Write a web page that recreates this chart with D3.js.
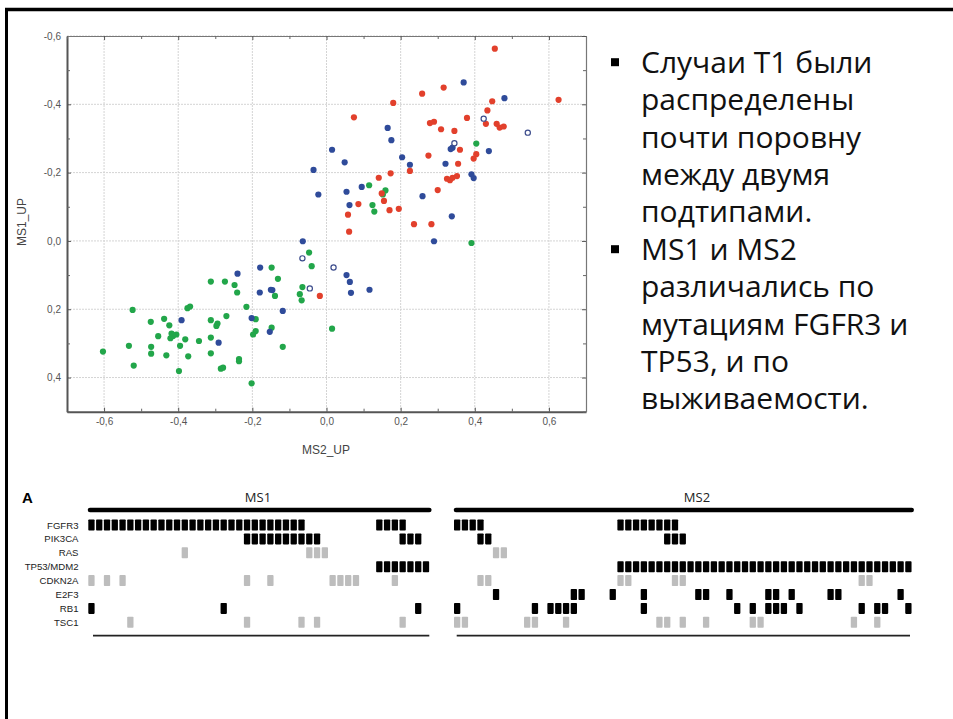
<!DOCTYPE html>
<html>
<head>
<meta charset="utf-8">
<script src="https://cdn.jsdelivr.net/npm/d3@7/dist/d3.min.js"></script>
<style>
  html, body { margin: 0; padding: 0; background: #fff; }
  svg { display: block; }
</style>
</head>
<body>
<div id="chart"></div>
<script>
// Scatter of MS2_UP vs MS1_UP scores + mutation matrix of MS1 / MS2 samples.

// --- scatter data: [MS2_UP, MS1_UP] ---
const redPoints = [
  [0.454, -0.563], [0.316, -0.449], [0.258, -0.431], [0.180, -0.404], [0.447, -0.409],
  [0.626, -0.413], [0.434, -0.382], [0.430, -0.343], [0.459, -0.343], [0.467, -0.332],
  [0.478, -0.335], [0.074, -0.362], [0.279, -0.345], [0.290, -0.349], [0.309, -0.327],
  [0.345, -0.322], [0.379, -0.360], [0.360, -0.267], [0.404, -0.254], [0.397, -0.241],
  [0.275, -0.250], [0.225, -0.205], [0.355, -0.226], [0.173, -0.198], [0.141, -0.185],
  [0.325, -0.182], [0.333, -0.178], [0.340, -0.185], [0.352, -0.190], [0.149, -0.139],
  [0.300, -0.149], [0.155, -0.117], [0.086, -0.108], [0.170, -0.090], [0.195, -0.094],
  [0.058, -0.077], [0.061, -0.027], [0.236, -0.049], [0.283, -0.049], [-0.018, 0.161]
];
const bluePoints = [
  [0.370, -0.464], [0.480, -0.418], [0.165, -0.331], [0.175, -0.295], [0.015, -0.267],
  [0.335, -0.269], [0.340, -0.273], [0.438, -0.263], [0.049, -0.230], [0.204, -0.245],
  [0.225, -0.223], [0.321, -0.226], [-0.035, -0.208], [0.391, -0.195], [0.397, -0.184],
  [-0.022, -0.136], [0.054, -0.144], [0.095, -0.158], [0.062, -0.105], [0.259, -0.131],
  [0.338, -0.072], [0.290, 0.001], [-0.064, 0.001], [-0.179, 0.078], [-0.240, 0.096],
  [-0.180, 0.151], [-0.150, 0.143], [-0.146, 0.144], [-0.202, 0.226], [-0.118, 0.205],
  [-0.391, 0.232], [-0.153, 0.266], [-0.291, 0.298], [0.054, 0.100], [0.063, 0.120],
  [0.066, 0.152], [0.116, 0.143]
];
const openPoints = [
  [0.424, -0.358], [0.543, -0.317], [0.345, -0.286], [-0.065, 0.051], [-0.045, 0.139],
  [0.019, 0.078]
];
const greenPoints = [
  [0.404, -0.285], [0.115, -0.163], [0.159, -0.148], [0.152, -0.136], [0.124, -0.105],
  [0.129, -0.086], [0.391, 0.006], [-0.047, 0.034], [-0.040, 0.074], [-0.148, 0.078],
  [-0.131, 0.111], [-0.312, 0.119], [-0.274, 0.119], [-0.248, 0.129], [-0.241, 0.151],
  [-0.139, 0.161], [-0.065, 0.135], [-0.072, 0.156], [-0.067, 0.174], [-0.216, 0.193],
  [-0.191, 0.229], [-0.523, 0.202], [-0.375, 0.197], [-0.368, 0.192], [-0.270, 0.220],
  [-0.438, 0.228], [-0.474, 0.237], [-0.424, 0.247], [-0.312, 0.232], [-0.297, 0.249],
  [-0.294, 0.242], [-0.191, 0.264], [-0.198, 0.274], [-0.148, 0.254], [-0.418, 0.271],
  [-0.405, 0.274], [-0.414, 0.278], [-0.421, 0.285], [-0.454, 0.279], [-0.381, 0.288],
  [-0.344, 0.293], [-0.312, 0.283], [-0.395, 0.307], [-0.533, 0.307], [-0.473, 0.310],
  [-0.473, 0.330], [-0.118, 0.310], [-0.603, 0.324], [-0.432, 0.335], [-0.373, 0.338],
  [-0.312, 0.329], [-0.236, 0.346], [-0.236, 0.352], [-0.520, 0.365], [-0.285, 0.374],
  [-0.279, 0.371], [-0.398, 0.381], [-0.202, 0.417], [0.015, 0.257]
];

const xTicks = [-0.6, -0.4, -0.2, 0.0, 0.2, 0.4, 0.6];
const yTicks = [-0.6, -0.4, -0.2, 0.0, 0.2, 0.4];
const xMinor = [-0.7, -0.5, -0.3, -0.1, 0.1, 0.3, 0.5, 0.7];
const yMinor = [-0.5, -0.3, -0.1, 0.1, 0.3, 0.5];

// --- bullet text ---
const bullets = [
  ['Случаи Т1 были', 'распределены', 'почти поровну', 'между двумя', 'подтипами.'],
  ['MS1 и MS2', 'различались по', 'мутациям FGFR3 и', 'TP53, и по', 'выживаемости.']
];

// --- mutation matrix: runs of sample columns [from, to] ---
const genes = ['FGFR3', 'PIK3CA', 'RAS', 'TP53/MDM2', 'CDKN2A', 'E2F3', 'RB1', 'TSC1'];
const greyGenes = ['RAS', 'CDKN2A', 'TSC1'];
const ms1Count = 44;
const ms2Count = 59;
const ms1Runs = {
  'FGFR3': [[0, 27], [37, 40]],
  'PIK3CA': [[20, 29], [40, 42]],
  'RAS': [[12, 12], [28, 30]],
  'TP53/MDM2': [[37, 43]],
  'CDKN2A': [[0, 0], [2, 2], [4, 4], [20, 20], [23, 23], [31, 34], [39, 39]],
  'E2F3': [],
  'RB1': [[0, 0], [17, 17], [42, 42]],
  'TSC1': [[5, 5], [20, 20], [27, 27], [29, 29], [40, 40]]
};
const ms2Runs = {
  'FGFR3': [[0, 3], [21, 28]],
  'PIK3CA': [[3, 4], [27, 29]],
  'RAS': [[5, 6]],
  'TP53/MDM2': [[21, 58]],
  'CDKN2A': [[3, 4], [21, 22], [28, 29], [52, 53]],
  'E2F3': [[5, 5], [15, 16], [20, 20], [24, 24], [31, 32], [35, 35], [40, 41], [43, 43], [48, 49], [57, 57]],
  'RB1': [[0, 0], [10, 10], [12, 15], [24, 24], [36, 36], [38, 38], [40, 42], [44, 44], [52, 52], [54, 55], [58, 58]],
  'TSC1': [[0, 1], [9, 10], [14, 14], [26, 27], [29, 29], [32, 32], [38, 39], [51, 51], [54, 54]]
};

(function() {
  'use strict';

  const W = 953, H = 719;
  const svg = d3.select('#chart').append('svg')
    .attr('width', W).attr('height', H)
    .attr('viewBox', [0, 0, W, H]);

  // frame: top and left rules only
  svg.append('line').attr('x1', 5).attr('x2', W).attr('y1', 9.5).attr('y2', 9.5)
    .attr('stroke', '#000').attr('stroke-width', 3.5);
  svg.append('line').attr('x1', 6.5).attr('x2', 6.5).attr('y1', 8).attr('y2', H)
    .attr('stroke', '#000').attr('stroke-width', 3);

  drawScatter();
  drawBullets();
  drawMatrix();

  function fmt(v) {
    return d3.format('.1f')(v).replace('.', ',').replace('−', '-');
  }

  function drawScatter() {
    const x = d3.scaleLinear().domain([-0.7, 0.7]).range([67, 586]);
    const y = d3.scaleLinear().domain([-0.6, 0.5]).range([36, 411.7]);
    const g = svg.append('g');

    // grid
    g.append('g').selectAll('line').data(xTicks).join('line')
      .attr('x1', d => x(d)).attr('x2', d => x(d))
      .attr('y1', y.range()[0]).attr('y2', y.range()[1])
      .attr('stroke', '#d4d4d4').attr('stroke-dasharray', '2,1');
    g.append('g').selectAll('line').data(yTicks).join('line')
      .attr('y1', d => y(d)).attr('y2', d => y(d))
      .attr('x1', x.range()[0]).attr('x2', x.range()[1])
      .attr('stroke', '#d4d4d4').attr('stroke-dasharray', '2,1');

    // axes (ticks point inward)
    const axes = [
      { ax: d3.axisBottom(x), t: `translate(0,${y.range()[1]})`, major: xTicks, minor: xMinor, label: true },
      { ax: d3.axisLeft(y), t: `translate(${x.range()[0]},0)`, major: yTicks, minor: yMinor, label: true },
      { ax: d3.axisTop(x), t: `translate(0,${y.range()[0]})`, major: xTicks, minor: xMinor, label: false },
      { ax: d3.axisRight(y), t: `translate(${x.range()[1]},0)`, major: yTicks, minor: yMinor, label: false }
    ];
    axes.forEach(a => {
      const ag = g.append('g').attr('transform', a.t)
        .call(a.ax.tickValues(a.major).tickSizeInner(-4).tickSizeOuter(0).tickPadding(6)
          .tickFormat(a.label ? fmt : ''));
      ag.select('.domain').attr('stroke', a.label ? '#555' : '#777')
        .attr('stroke-width', a.label ? 2 : 1.2);
      ag.selectAll('.tick line').attr('stroke', '#555');
      ag.selectAll('.tick text')
        .attr('fill', '#555').style('font-family', 'Liberation Sans, Arial, sans-serif')
        .style('font-size', '10px');
      const mg = g.append('g').attr('transform', a.t)
        .call(a.ax.tickValues(a.minor).tickSizeInner(-3).tickFormat(''));
      mg.select('.domain').remove();
      mg.selectAll('.tick line').attr('stroke', '#666');
    });

    g.append('text').attr('x', 326).attr('y', 454).attr('text-anchor', 'middle')
      .style('font-family', 'Liberation Sans, Arial, sans-serif').style('font-size', '12px')
      .attr('fill', '#444').text('MS2_UP');
    g.append('text').attr('transform', 'translate(26,222) rotate(-90)').attr('text-anchor', 'middle')
      .style('font-family', 'Liberation Sans, Arial, sans-serif').style('font-size', '12px')
      .attr('fill', '#444').text('MS1_UP');

    const series = [
      { data: greenPoints, fill: '#22a64a', stroke: 'none' },
      { data: bluePoints, fill: '#2f4b9a', stroke: 'none' },
      { data: redPoints, fill: '#e2402c', stroke: 'none' },
      { data: openPoints, fill: '#fff', stroke: '#3c4c8c' }
    ];
    series.forEach(s => {
      g.append('g').selectAll('circle').data(s.data).join('circle')
        .attr('cx', d => x(d[0])).attr('cy', d => y(d[1]))
        .attr('r', s.stroke === 'none' ? 3.1 : 2.6)
        .attr('fill', s.fill)
        .attr('stroke', s.stroke).attr('stroke-width', 1.2);
    });
  }

  function drawBullets() {
    const g = svg.append('g')
      .style('font-family', 'Open Sans, sans-serif').style('font-size', '30px').attr('fill', '#111');
    const lineH = 37.4;
    let line = 0;
    bullets.forEach(b => {
      const base = 72.7 + line * lineH;
      g.append('rect').attr('x', 611).attr('y', base - 14.5).attr('width', 8).attr('height', 8)
        .attr('fill', '#000');
      b.forEach(t => {
        g.append('text').attr('x', 641).attr('y', 72.7 + line * lineH).text(t);
        line++;
      });
    });
  }

  function drawMatrix() {
    const g = svg.append('g');
    const rowY = d3.scalePoint().domain(genes).range([525, 622.3]);
    const pitch = 7.78, cellW = 6.3, cellH = 11;
    const groups = [
      { name: 'MS1', runs: ms1Runs, n: ms1Count, x0: 88.3, bar: [90, 429.3], base: [93, 429.3], lx: 258 },
      { name: 'MS2', runs: ms2Runs, n: ms2Count, x0: 454, bar: [456, 911.7], base: [456.7, 910], lx: 697 }
    ];

    g.append('text').attr('x', 22).attr('y', 502.5)
      .style('font-family', 'Liberation Sans, Arial, sans-serif').style('font-size', '15px')
      .style('font-weight', 'bold').text('A');

    g.append('g').selectAll('text').data(genes).join('text')
      .attr('x', 78.5).attr('y', d => rowY(d) + 3.5).attr('text-anchor', 'end')
      .style('font-family', 'Liberation Sans, Arial, sans-serif').style('font-size', '9.6px')
      .attr('fill', '#222').text(d => d);

    groups.forEach(grp => {
      const col = d3.scaleLinear().domain([0, grp.n]).range([grp.x0, grp.x0 + grp.n * pitch]);
      g.append('text').attr('x', grp.lx).attr('y', 502)
        .attr('text-anchor', 'middle')
        .style('font-family', 'Open Sans, sans-serif').style('font-size', '13px')
        .attr('fill', '#222').text(grp.name);
      g.append('line').attr('x1', grp.bar[0]).attr('x2', grp.bar[1]).attr('y1', 510).attr('y2', 510)
        .attr('stroke', '#000').attr('stroke-width', 4.5).attr('stroke-linecap', 'round');
      g.append('line').attr('x1', grp.base[0]).attr('x2', grp.base[1]).attr('y1', 635.7).attr('y2', 635.7)
        .attr('stroke', '#222').attr('stroke-width', 1.8);

      const cells = [];
      genes.forEach(gene => {
        grp.runs[gene].forEach(r => {
          for (let i = r[0]; i <= r[1]; i++) cells.push({ gene, i });
        });
      });
      g.append('g').selectAll('rect').data(cells).join('rect')
        .attr('x', d => col(d.i)).attr('y', d => rowY(d.gene) - cellH / 2)
        .attr('width', cellW).attr('height', cellH)
        .attr('rx', 0.8)
        .attr('fill', d => greyGenes.includes(d.gene) ? '#bdbdbd' : '#000');
    });
  }
})();
</script>
</body>
</html>
